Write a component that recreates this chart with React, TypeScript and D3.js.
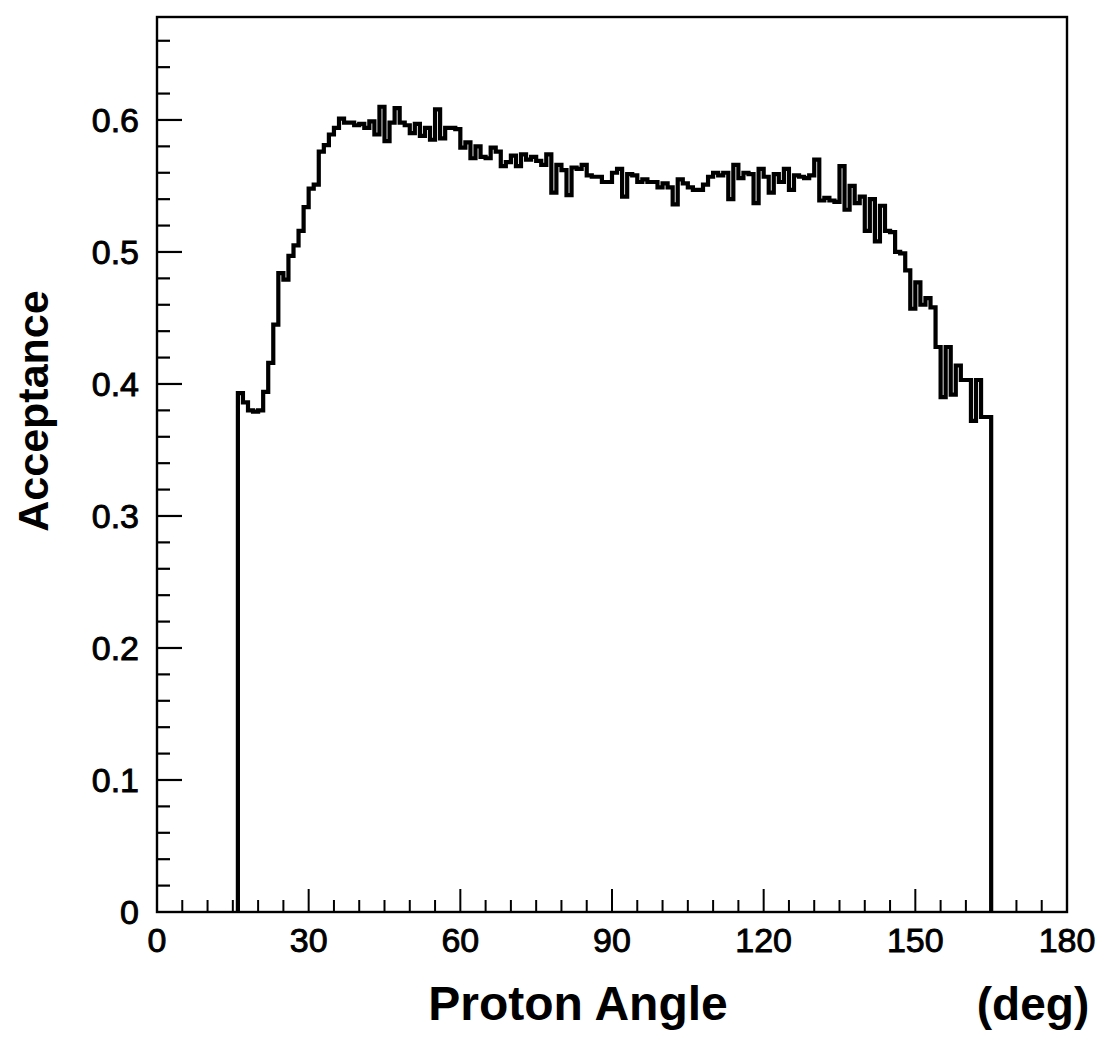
import React, { useEffect, useRef } from "react";
import * as d3 from "d3";

// Histogram: 1-degree bins, first bin starts at 16 deg
const binStart = 16;
const acceptance = [
  0.393, 0.386, 0.380, 0.379, 0.380, 0.394, 0.416, 0.445, 0.484, 0.479, // 16-25
  0.497, 0.505, 0.516, 0.534, 0.548, 0.551, 0.576, 0.581, 0.589, 0.594, // 26-35
  0.601, 0.598, 0.598, 0.596, 0.597, 0.594, 0.599, 0.589, 0.610, 0.584, // 36-45
  0.598, 0.609, 0.598, 0.596, 0.590, 0.597, 0.588, 0.594, 0.585, 0.608, // 46-55
  0.586, 0.594, 0.594, 0.593, 0.579, 0.583, 0.571, 0.580, 0.572, 0.571, // 56-65
  0.579, 0.576, 0.565, 0.568, 0.573, 0.565, 0.574, 0.570, 0.572, 0.569, // 66-75
  0.566, 0.574, 0.545, 0.566, 0.562, 0.543, 0.564, 0.563, 0.566, 0.558, // 76-85
  0.557, 0.557, 0.553, 0.553, 0.560, 0.563, 0.542, 0.559, 0.558, 0.553, // 86-95
  0.555, 0.553, 0.553, 0.549, 0.552, 0.549, 0.536, 0.555, 0.552, 0.549, // 96-105
  0.547, 0.547, 0.551, 0.557, 0.560, 0.558, 0.560, 0.540, 0.566, 0.556, // 106-115
  0.560, 0.559, 0.537, 0.563, 0.557, 0.545, 0.559, 0.553, 0.563, 0.547, // 116-125
  0.558, 0.557, 0.556, 0.558, 0.570, 0.539, 0.541, 0.539, 0.538, 0.565, // 126-135
  0.532, 0.550, 0.537, 0.542, 0.516, 0.540, 0.508, 0.535, 0.516, 0.515, // 136-145
  0.500, 0.499, 0.486, 0.457, 0.477, 0.460, 0.465, 0.458, 0.428, 0.390, // 146-155
  0.428, 0.392, 0.414, 0.403, 0.403, 0.372, 0.403, 0.375, 0.375,        // 156-164
];

const xMajorTicks = [0, 30, 60, 90, 120, 150, 180];
const xMinorTicks = d3.range(5, 180, 5).filter((v) => v % 30 !== 0);
const yMajorTicks = [0, 0.1, 0.2, 0.3, 0.4, 0.5, 0.6];
const yMinorTicks = d3.range(1, 34).map((i) => i * 0.02).filter((v) => Math.abs(v * 10 - Math.round(v * 10)) > 1e-6);
const yTickLabels = ["0", "0.1", "0.2", "0.3", "0.4", "0.5", "0.6"];
const xTickLabels = ["0", "30", "60", "90", "120", "150", "180"];

const W = 1105;
const H = 1061;
const L = 157, R = 1067, T = 17, B = 912;

export default function App() {
  const ref = useRef<SVGSVGElement>(null);

  useEffect(() => {
    const svg = d3.select(ref.current);
    svg.selectAll("*").remove();

    const x = d3.scaleLinear().domain([0, 180]).range([L, R]);
    const y = d3.scaleLinear().domain([0, 0.678]).range([B, T]);

    const font = "'Liberation Sans', Arial, Helvetica, sans-serif";

    // Frame
    svg.append("rect")
      .attr("x", L).attr("y", T).attr("width", R - L).attr("height", B - T)
      .attr("fill", "none").attr("stroke", "#000").attr("stroke-width", 2.4);

    // X ticks (inward)
    svg.append("g").selectAll("line.xmaj").data(xMajorTicks.slice(1, -1)).join("line")
      .attr("x1", (d) => x(d)).attr("x2", (d) => x(d))
      .attr("y1", B).attr("y2", B - 23)
      .attr("stroke", "#000").attr("stroke-width", 2);
    svg.append("g").selectAll("line.xmin").data(xMinorTicks).join("line")
      .attr("x1", (d) => x(d)).attr("x2", (d) => x(d))
      .attr("y1", B).attr("y2", B - 12)
      .attr("stroke", "#000").attr("stroke-width", 2);

    // Y ticks (inward)
    svg.append("g").selectAll("line.ymaj").data(yMajorTicks.slice(1)).join("line")
      .attr("x1", L).attr("x2", L + 25)
      .attr("y1", (d) => y(d)).attr("y2", (d) => y(d))
      .attr("stroke", "#000").attr("stroke-width", 2.2);
    svg.append("g").selectAll("line.ymin").data(yMinorTicks).join("line")
      .attr("x1", L).attr("x2", L + 13)
      .attr("y1", (d) => y(d)).attr("y2", (d) => y(d))
      .attr("stroke", "#000").attr("stroke-width", 2.2);

    // Tick labels
    svg.append("g").selectAll("text").data(xMajorTicks).join("text")
      .attr("x", (d) => x(d)).attr("y", 952)
      .attr("text-anchor", "middle")
      .attr("font-family", font).attr("font-size", 34)
      .attr("fill", "#000").attr("stroke", "#000").attr("stroke-width", 0.9)
      .text((d, i) => xTickLabels[i]);
    svg.append("g").selectAll("text").data(yMajorTicks).join("text")
      .attr("x", 139).attr("y", (d) => y(d) + 12)
      .attr("text-anchor", "end")
      .attr("font-family", font).attr("font-size", 34)
      .attr("fill", "#000").attr("stroke", "#000").attr("stroke-width", 0.9)
      .text((d, i) => yTickLabels[i]);

    // Histogram
    const pts: [number, number][] = [[binStart, 0]];
    acceptance.forEach((v, i) => pts.push([binStart + i, v]));
    const end = binStart + acceptance.length;
    pts.push([end, acceptance[acceptance.length - 1]]);
    pts.push([end, 0]);
    const line = d3.line<[number, number]>()
      .x((d) => x(d[0])).y((d) => y(d[1]))
      .curve(d3.curveStepAfter);
    svg.append("path")
      .attr("d", line(pts) as string)
      .attr("fill", "none").attr("stroke", "#000")
      .attr("stroke-width", 4.2).attr("stroke-linejoin", "miter");

    // Axis titles
    svg.append("text")
      .attr("transform", "translate(48,411) rotate(-90)")
      .attr("text-anchor", "middle")
      .attr("font-family", font).attr("font-weight", "bold").attr("font-size", 43)
      .attr("fill", "#000")
      .text("Acceptance");
    svg.append("text")
      .attr("x", 578).attr("y", 1020)
      .attr("text-anchor", "middle")
      .attr("font-family", font).attr("font-weight", "bold").attr("font-size", 48)
      .attr("fill", "#000")
      .text("Proton Angle");
    svg.append("text")
      .attr("x", 1033).attr("y", 1020)
      .attr("text-anchor", "middle")
      .attr("font-family", font).attr("font-weight", "bold").attr("font-size", 46)
      .attr("fill", "#000")
      .text("(deg)");
  }, []);

  return (
    <svg
      ref={ref}
      width={W}
      height={H}
      style={{ position: "absolute", left: 0, top: 0, background: "#fff" }}
    />
  );
}
